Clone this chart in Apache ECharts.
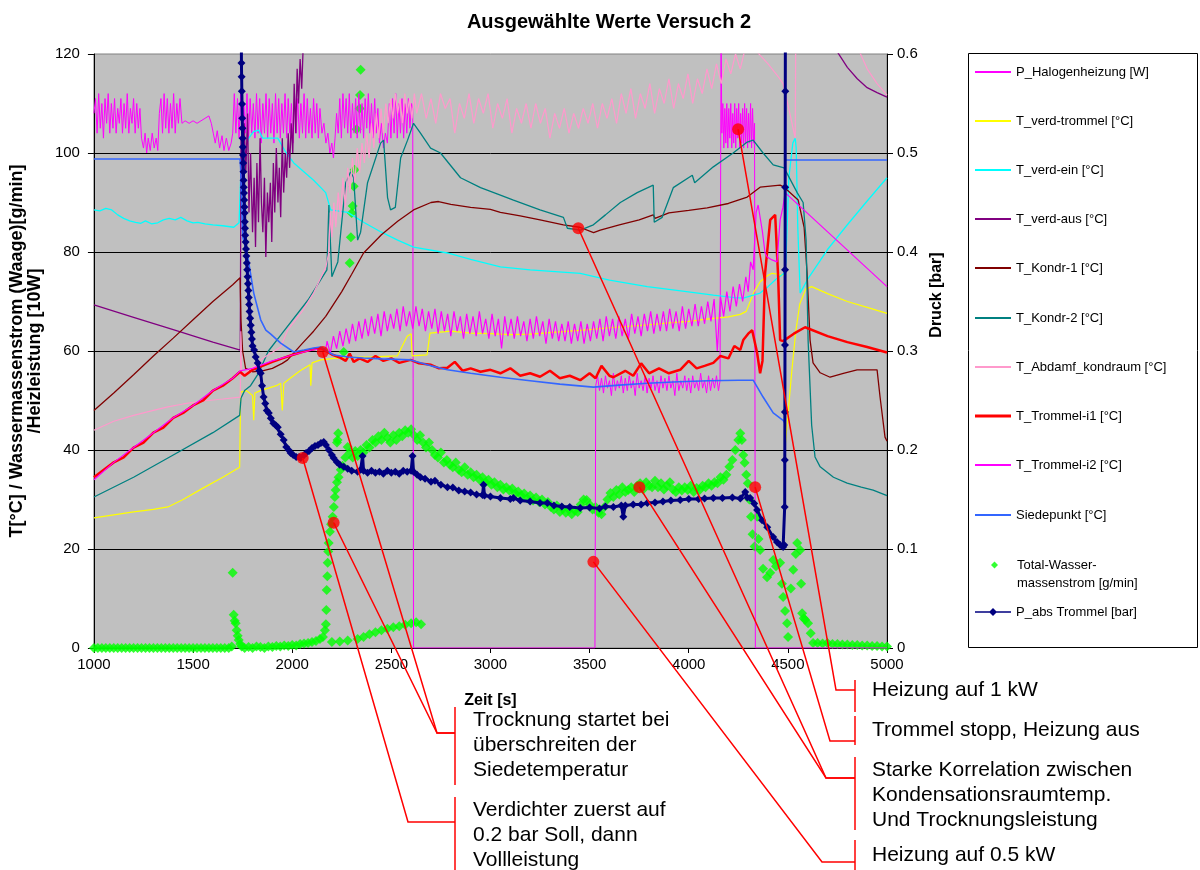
<!DOCTYPE html>
<html>
<head>
<meta charset="utf-8">
<script src="https://cdn.jsdelivr.net/npm/echarts@6/dist/echarts.min.js"></script>
<style>
html,body{margin:0;padding:0;background:#fff;}
#chart{width:1200px;height:870px;}
</style>
</head>
<body>
<div id="chart"></div>
<script>
// ---- axis ranges ----
const timeAxis = {min: 1000, max: 5000, step: 500};
const tempAxis = {min: 0, max: 120, step: 20};
const pressureAxis = {min: 0, max: 0.6, step: 0.1};

// ---- series names (legend order) ----
const seriesNames = [
  'P_Halogenheizung [W]', 'T_verd-trommel [°C]', 'T_verd-ein [°C]', 'T_verd-aus [°C]',
  'T_Kondr-1 [°C]', 'T_Kondr-2 [°C]', 'T_Abdamf_kondraum [°C]', 'T_Trommel-i1 [°C]',
  'T_Trommel-i2 [°C]', 'Siedepunkt [°C]', 'Total-Wassermassenstrom [g/min]', 'P_abs Trommel [bar]'
];

// ---- measured values: [time s, value] ----
const halogenPower = [
  [1000,108],[1008,111],[1016,104],[1024,112],[1032,105],[1040,110],[1048,103],[1056,111],[1064,106],[1072,112],
  [1080,104],[1088,110],[1096,105],[1104,111],[1112,104],[1120,109],[1128,106],[1136,111],[1144,104],[1152,110],
  [1160,105],[1168,112],[1176,104],[1184,109],[1192,106],[1200,111],[1208,104],[1216,110],[1224,105],[1232,109],
  [1240,103],[1250,101],[1258,104],[1266,100],[1274,103],[1284,100.5],[1294,104],[1304,101],[1314,103],[1322,100.5],
  [1330,108],[1338,111],[1346,104],[1354,112],[1362,105],[1370,111],[1378,104],[1386,110],[1394,105],[1402,112],
  [1410,104],[1418,110],[1426,106],[1434,111],[1444,106],[1460,106.5],[1480,106],[1500,106.5],[1520,106],[1540,106.5],
  [1560,107],[1580,107.5],[1592,106],[1602,104],[1612,102],[1622,104.5],[1634,101],[1646,103.5],[1656,100.5],[1668,103],
  [1680,100.5],[1692,102],[1700,104],[1708,112],[1716,104],[1724,111],[1732,103],[1740,112],[1748,102],[1756,110],
  [1764,104],[1772,112],[1780,103],[1788,111],[1796,104],[1804,110],[1812,103],[1820,112],[1828,104],[1836,111],
  [1844,102],[1852,110],[1860,104],[1868,112],[1876,103],[1884,111],[1892,104],[1900,110],[1908,102],[1916,112],
  [1924,104],[1932,111],[1940,103],[1948,110],[1956,104],[1964,112],[1972,103],[1980,111],[1988,104],[1996,110],
  [2004,102],[2012,112],[2020,104],[2028,111],[2036,103],[2044,110],[2052,104],[2060,112],[2068,103],[2076,111],
  [2084,104],[2092,109],[2100,103],[2108,111],[2116,104],[2124,110],[2132,103],[2140,109],[2150,104],[2160,106],
  [2170,102],[2180,104],[2190,100],[2200,102],[2208,99],[2216,103],[2224,108],[2232,104],[2240,111],[2248,103],
  [2256,112],[2264,105],[2272,111],[2280,104],[2288,112],[2296,103],[2304,110],[2312,104],[2320,111],[2328,103],
  [2336,112],[2344,104],[2352,110],[2360,103],[2368,111],[2376,105],[2384,112],[2392,104],[2400,110],[2408,103],
  [2416,111],[2424,104],[2432,109],[2440,102],[2450,106],[2460,101],[2470,104],[2480,102],[2490,110],[2498,103],
  [2506,111],[2514,104],[2522,112],[2530,103],[2538,110],[2546,104],[2554,111],[2562,103],[2570,110],[2578,104],
  [2586,111],[2594,105],[2602,110],[2608,109],[2612,0],[3527,0],[3531,53],[3540,55],[3550,52],[3560,54.5],
  [3570,51.5],[3580,55],[3590,52.5],[3600,54],[3610,51],[3620,55.5],[3630,52],[3640,54],[3650,52.5],[3660,55],
  [3670,51.5],[3680,54.5],[3690,52],[3700,55],[3710,52.5],[3720,54],[3730,51],[3740,55.5],[3750,52.5],[3760,54],
  [3770,52],[3780,55],[3790,51.5],[3800,54.5],[3810,52.5],[3820,55],[3830,52],[3840,54],[3850,51.5],[3860,55],
  [3870,52.5],[3880,54.5],[3890,52],[3900,55],[3910,52.5],[3920,54],[3930,51],[3940,55.5],[3950,52],[3960,54],
  [3970,52.5],[3980,55],[3990,52],[4000,54.5],[4010,51.5],[4020,55],[4030,52.5],[4040,54],[4050,52],[4060,55.5],
  [4070,52.5],[4080,54],[4090,51.5],[4100,55],[4110,52],[4120,54.5],[4130,52.5],[4140,55],[4150,52],[4158,54],
  [4163,125],[4167,104],[4172,110],[4177,101],[4182,109],[4187,102],[4192,110],[4197,101],[4202,109],[4207,103],
  [4212,110],[4217,101],[4222,108],[4227,102],[4232,110],[4237,101],[4242,109],[4247,103],[4252,110],[4257,101],
  [4262,108],[4267,102],[4272,109],[4277,101],[4282,110],[4287,102],[4292,109],[4297,101],[4302,108],[4307,102],
  [4312,110],[4317,101],[4322,109],[4327,102],[4332,106],[4336,0],[5000,0]
];

const drumEvapTemp = [
  [1000,26.3],[1100,26.9],[1200,27.5],[1300,28],[1373,28.5],[1450,30],[1550,32.3],[1650,34.5],[1735,36.5],[1740,51.7],
  [1770,52],[1800,51],[1806,46],[1812,51.5],[1840,52],[1880,52.5],[1920,53],[1942,53.5],[1950,48],[1958,53.5],
  [1990,54.5],[2040,56],[2090,57.2],[2094,53],[2100,57.6],[2144,58.2],[2210,58.5],[2300,58.7],[2400,58.8],[2530,59],
  [2580,63],[2600,63.5],[2605,59],[2680,59.2],[2695,63.6],[2800,64],[2900,63.6],[3000,63.5],[3100,63.3],[3200,63.4],
  [3300,63.7],[3400,64],[3500,64.3],[3600,64.7],[3700,65],[3800,65.3],[3900,65.7],[4000,66],[4100,66.5],[4200,66.9],
  [4260,67.4],[4290,68],[4310,70],[4330,72],[4360,74],[4400,75.3],[4420,75.7],[4450,75.5],[4484,75.3],[4486,40.5],
  [4500,47],[4520,56],[4540,64],[4560,69.5],[4590,72.5],[4620,73],[4700,71.6],[4800,70],[4900,68.8],[5000,67.6]
];

const evapInTemp = [
  [1000,88.5],[1030,88.3],[1060,88.8],[1090,88.5],[1120,87.5],[1150,86.8],[1180,86.3],[1210,86],[1237,85.8],[1260,86.3],
  [1290,85.7],[1322,85.9],[1350,86.5],[1380,86.8],[1410,86.5],[1438,87],[1470,86.3],[1500,85.9],[1524,86],[1560,85.7],
  [1600,85.5],[1650,85.3],[1705,85],[1732,85.9],[1741,96],[1760,100.5],[1781,103],[1805,104.3],[1831,104.6],[1851,103],
  [1927,103],[1970,100],[2008,98],[2108,94.5],[2169,92],[2194,88.5],[2280,88],[2360,86],[2450,84],[2532,82.4],
  [2612,81],[2783,79.8],[2900,78.5],[3050,77],[3200,76.4],[3453,75.7],[3600,74.3],[3791,73],[3950,72.2],[4124,71.3],
  [4230,70.8],[4275,70.7],[4360,71.7],[4400,73],[4440,74.5],[4481,75.7],[4490,78],[4505,95],[4525,102],[4537,103],
  [4542,101],[4550,85],[4562,71.7],[4600,74.5],[4700,80.5],[4800,85.5],[4900,90.3],[5000,95]
];

const evapOutTemp = [
  [1000,69.3],[1200,66.8],[1400,64.3],[1600,61.8],[1738,60.2],[1742,103],[1750,92],[1758,106],[1766,96],[1775,108],
  [1782,88],[1790,100],[1800,84],[1808,95],[1815,81],[1822,98],[1830,86],[1838,103],[1845,90],[1852,84],
  [1860,95],[1867,79],[1875,92],[1882,86],[1890,94],[1897,82],[1905,98],[1912,88],[1920,101],[1928,90],
  [1935,97],[1942,87],[1950,103],[1957,92],[1965,100],[1972,95],[1980,104],[1987,97],[1995,106],[2003,100],
  [2010,114],[2018,104],[2025,117],[2032,110],[2040,119],[2048,113],[2055,121],[2065,125],[2075,135],[4700,135],
  [4750,120.4],[4800,117.3],[4850,115],[4900,113.2],[4950,112.2],[5000,111.3]
];

const condenser1Temp = [
  [1000,48],[1100,51.5],[1200,55.2],[1300,59],[1400,62.6],[1500,66.3],[1600,70],[1700,73.4],[1737,74.8],[1742,66],
  [1750,60],[1765,56.5],[1800,55.8],[1850,56],[1900,56.5],[1950,57.5],[1977,58.2],[2050,61.5],[2108,64],[2169,67],
  [2250,72],[2300,75.5],[2360,79.8],[2450,83.5],[2532,86.2],[2612,88.5],[2700,90],[2738,90.2],[2800,89.6],[2900,89],
  [3000,88.6],[3050,88],[3150,87.3],[3250,86.5],[3368,85.5],[3450,85],[3520,83.9],[3554,84.4],[3650,85.5],[3750,86.5],
  [3821,87.5],[3830,86.8],[3900,87.9],[4000,88.4],[4093,88.9],[4200,89.8],[4295,91.1],[4360,93.1],[4461,93.5],[4481,93.1],
  [4552,90.5],[4582,85],[4597,75.7],[4612,62.2],[4627,57.6],[4663,55.6],[4713,54.7],[4780,55.5],[4849,56.2],[4950,56.2],
  [4965,50.7],[4990,42.6],[5000,41.8]
];

const condenser2Temp = [
  [1000,30.5],[1200,34.5],[1400,39],[1600,43.5],[1735,47],[1742,50.5],[1760,52],[1790,53],[1830,55.5],[1880,60],
  [1950,63.6],[2080,70.3],[2175,76.4],[2185,89.5],[2200,75],[2230,78],[2270,94],[2295,96.2],[2310,95],[2330,82.4],
  [2345,84],[2380,94],[2446,102],[2461,102.6],[2481,91],[2496,88.5],[2520,89],[2547,99],[2582,102.6],[2612,106],
  [2647,104],[2698,101],[2748,100],[2849,95],[2950,93],[3050,91.5],[3116,90.5],[3250,88.5],[3368,87],[3388,84.8],
  [3453,84.4],[3519,85.5],[3580,87.5],[3655,90],[3740,92],[3821,93.5],[3826,86],[3866,87],[3922,93],[4018,95.5],
  [4030,94],[4124,97.2],[4224,100],[4295,102.2],[4325,102.6],[4375,100],[4426,97.6],[4481,97],[4547,92],[4577,90],
  [4592,82.4],[4602,62.2],[4620,45],[4637,38.6],[4663,36.6],[4730,34.5],[4799,33.3],[4870,32.5],[4930,31.9],[5000,30.8]
];

const exhaustTemp = [
  [1000,44],[1100,45.8],[1200,47],[1300,48],[1373,48.7],[1450,49.3],[1550,49.9],[1650,50.3],[1738,50.7],[1741,64],
  [1745,55],[1760,55.5],[1806,56.8],[1850,58.5],[1942,60.8],[1977,64.2],[2050,68],[2108,71.7],[2170,77],[2184,79.8],
  [2192,88],[2200,83],[2210,90],[2220,85],[2232,92],[2244,87],[2256,95],[2268,89],[2280,97],[2292,92],
  [2304,99],[2316,94],[2328,101],[2340,96],[2352,102],[2364,98],[2376,104],[2388,99],[2400,106],[2412,101],
  [2424,108],[2436,103],[2448,109],[2460,104],[2472,110],[2484,106],[2496,111],[2508,107],[2520,112],[2532,108],
  [2544,111],[2556,106],[2568,112],[2580,108],[2592,111],[2604,107],[2616,112],[2628,108],[2652,112],[2676,107],
  [2700,111],[2724,106],[2748,112],[2772,109],[2796,111],[2820,104],[2844,110],[2868,107],[2892,112],[2916,106],
  [2940,111],[2964,108],[2988,112],[3012,105],[3036,110],[3060,107],[3084,111],[3108,104],[3132,109],[3156,106],
  [3180,110],[3204,105],[3228,110],[3252,106],[3276,109],[3300,103],[3324,108],[3348,105],[3372,109],[3396,104],
  [3420,108],[3444,105],[3468,109],[3492,106],[3516,110],[3540,105],[3564,110],[3588,107],[3612,111],[3636,106],
  [3660,112],[3684,108],[3708,113],[3732,107],[3756,112],[3780,109],[3804,114],[3828,108],[3852,113],[3876,110],
  [3900,115],[3924,109],[3948,114],[3972,111],[3996,116],[4020,110],[4044,115],[4068,112],[4092,117],[4116,113],
  [4140,118],[4164,114],[4188,119],[4212,116],[4236,120],[4260,117],[4284,121],[4310,122],[4345,120.4],[4400,118],
  [4450,115.5],[4476,114],[4510,108],[4537,103],[4540,125],[4850,125],[4862,120.4],[4900,117],[4950,114],[5000,111.7]
];

const drumTemp1 = [
  [1000,34.5],[1050,36],[1100,37.5],[1150,38.5],[1200,40.5],[1250,41.5],[1300,43.5],[1350,44.5],[1400,46.5],[1450,47.5],
  [1500,49],[1550,50],[1600,52],[1650,53],[1700,54.5],[1737,55.8],[1760,55],[1800,56.2],[1850,57],[1900,57.8],
  [1950,58.5],[2000,59.2],[2050,59.8],[2100,60.3],[2144,60.6],[2200,59.3],[2244,58.6],[2270,58],[2290,59.5],[2310,57.8],
  [2340,58.5],[2380,57.8],[2420,59],[2460,58],[2500,58.5],[2540,57.6],[2597,58.2],[2640,57.5],[2700,57.2],[2740,56.5],
  [2783,56.6],[2820,57.8],[2860,56],[2900,56.5],[2950,55.8],[3000,56.2],[3050,55.5],[3100,56.5],[3150,55],[3200,55.5],
  [3250,54.8],[3300,56],[3350,54.5],[3400,55],[3453,54.1],[3500,55.5],[3530,54.5],[3560,57],[3600,55],[3620,54.7],
  [3680,56],[3720,55],[3760,57.5],[3800,55.5],[3850,56.5],[3900,55.5],[3957,56.2],[4000,58],[4040,56.5],[4080,57],
  [4124,57.6],[4160,59],[4200,58.5],[4230,61],[4260,60.2],[4275,62.2],[4300,63.5],[4320,64.2],[4345,59.6],[4360,55.5],
  [4372,58],[4385,75.7],[4411,86.5],[4436,87.5],[4451,75],[4461,62.2],[4476,62],[4530,63.5],[4587,64.8],[4700,63],
  [4800,61.8],[4900,60.8],[5000,59.7]
];

const drumTemp2 = [
  [1000,34],[1100,37.5],[1200,40.5],[1300,43.5],[1400,46.5],[1500,49],[1600,52],[1700,54.5],[1737,56],[1800,56.5],
  [1900,58],[2000,59.2],[2100,60.2],[2170,60.5],[2176,62],[2192,59.5],[2208,63],[2224,60.5],[2240,64],[2256,61],
  [2272,64.5],[2288,61.5],[2304,65.5],[2320,62],[2336,66],[2352,62.5],[2368,66.5],[2384,63],[2400,67],[2416,63.5],
  [2432,67.5],[2448,63],[2464,68],[2480,64],[2496,67.5],[2512,64.5],[2528,68.5],[2544,64],[2560,69],[2576,65],
  [2592,68],[2608,64.5],[2624,69],[2640,65],[2656,68.5],[2672,64],[2688,68],[2704,64.5],[2720,68.5],[2736,63.5],
  [2752,68],[2768,64],[2784,67.5],[2800,63],[2816,68],[2832,64],[2848,67],[2864,62.5],[2880,67.5],[2896,63.5],
  [2912,67],[2928,63],[2944,68],[2960,63.5],[2976,66.5],[2992,62.5],[3008,67.5],[3024,63],[3040,66.5],[3056,60.5],
  [3072,67],[3088,63],[3104,66.5],[3120,62.5],[3136,67],[3152,63],[3168,66],[3184,62],[3200,66.5],[3216,62.5],
  [3232,67],[3248,63],[3264,66],[3280,61.5],[3296,66.5],[3312,62.5],[3328,66],[3344,62],[3360,65.5],[3376,62],
  [3392,66],[3408,61.5],[3424,65.5],[3440,62],[3456,66],[3472,61.5],[3488,65.5],[3504,62],[3520,66],[3536,62.5],
  [3552,66.5],[3568,62],[3584,67],[3600,63],[3616,66.5],[3632,62.5],[3648,67],[3664,63],[3680,66.5],[3696,62.5],
  [3712,67.5],[3728,63.5],[3744,67],[3760,63],[3776,67.5],[3792,64],[3808,68],[3824,63.5],[3840,67.5],[3856,64],
  [3872,68],[3888,64],[3904,68.5],[3920,64.5],[3936,68],[3952,64],[3968,69],[3984,64.5],[4000,68.5],[4016,65],
  [4032,69.5],[4048,65],[4064,69],[4080,65.5],[4096,70],[4112,66],[4128,70.5],[4144,60],[4160,71],[4176,67],
  [4192,72],[4208,68],[4224,73],[4240,69],[4256,73.5],[4272,70],[4288,75],[4300,72],[4312,78],[4325,76.4],
  [4340,88],[4350,89.5],[4360,89.9],[4372,84],[4385,79.8],[4396,79],[4420,78.4],[4445,78],[4461,86.5],[4475,89],
  [4486,92],[5000,73]
];

const boilingPoint = [
  [1000,98.8],[1737,98.8],[1740,97],[1751,83],[1776,79],[1806,71.7],[1841,66.3],[1867,64.2],[1892,63.4],[1942,61.6],
  [2008,59.8],[2060,60.2],[2108,60.6],[2144,60.8],[2175,60],[2209,59.2],[2280,58.8],[2360,58.6],[2450,58.4],[2597,58.2],
  [2700,57],[2783,56.2],[2900,55.5],[3050,54.7],[3200,54],[3350,53.3],[3519,52.7],[3650,53.1],[3791,53.5],[3950,53.8],
  [4100,54],[4250,54.1],[4325,54.1],[4375,50.7],[4426,47.5],[4476,46],[4484,45.5],[4486,98.6],[5000,98.6]
];

const waterFlow = [
  [1000,0],[1020,0],[1040,0],[1060,0],[1080,0],[1100,0],[1120,0],[1140,0],[1160,0],[1180,0],
  [1200,0],[1220,0],[1240,0],[1260,0],[1280,0],[1300,0],[1320,0],[1340,0],[1360,0],[1380,0],
  [1400,0],[1420,0],[1440,0],[1460,0],[1480,0],[1500,0],[1520,0],[1540,0],[1560,0],[1580,0],
  [1600,0],[1620,0],[1640,0],[1660,0],[1680,0],[1695,0.3],[1700,15.2],[1705,6.7],[1710,5.5],[1715,5],
  [1720,3.6],[1725,2.5],[1730,1.6],[1738,0.8],[1745,0.3],[1760,0],[1780,0.2],[1800,0],[1820,0.3],[1840,0.2],
  [1860,0],[1880,0.3],[1900,0.2],[1920,0.4],[1940,0.3],[1960,0.5],[1980,0.4],[2000,0.6],[2020,0.5],[2040,0.8],
  [2060,0.9],[2080,1],[2100,1.2],[2120,1.4],[2140,1.8],[2155,2.2],[2165,3.6],[2170,4.8],[2172,7.7],[2174,11.7],
  [2177,14.5],[2179,17.2],[2182,19.5],[2184,21.2],[2190,23.5],[2196,25],[2204,26.5],[2210,28.5],[2215,30.5],[2219,31.9],
  [2226,33.5],[2234,34.5],[2229,42],[2232,43.4],[2226,41.5],[2245,36],[2254,36.8],
  [2260,59.8],[2290,77.8],[2296,83],[2300,87.9],[2305,89.3],[2310,93.3],[2315,96.6],[2325,104.8],[2340,109],[2342,111.7],[2345,116.8],
  [2200,1.2],[2240,1.3],[2280,1.5],[2330,1.8],[2360,2.2],[2390,2.8],[2420,3.2],[2450,3.6],[2480,3.9],[2510,4.2],
  [2540,4.4],[2570,4.7],[2600,5],[2625,5.2],[2650,4.8],
  [2268,38.5],[2280,40.6],[2292,39.5],[2305,38.5],[2318,39.8],[2330,38.8],[2345,40],[2360,39.5],[2375,41],[2390,40.5],
  [2405,42],[2420,41.5],[2435,42.8],[2450,42],[2465,43.5],[2480,42.5],[2495,41.5],[2510,43],[2525,42],[2540,43.5],
  [2555,42.8],[2570,44],[2585,43.5],[2600,44.2],[2615,43],[2630,42],[2645,43],[2660,41.5],[2675,40.5],[2690,41.5],
  [2705,40],[2720,39],[2735,38.5],[2750,39.5],[2765,37.5],[2780,38],[2795,37],[2810,36.5],[2825,37.5],[2840,36],
  [2855,35.5],[2870,36.5],[2885,35],[2900,35.5],[2915,34.5],[2930,35],[2945,34],[2960,34.5],[2975,33.5],[2990,34],
  [3005,33],[3020,33.5],[3035,32.5],[3050,33],[3065,32],[3080,32.5],[3095,31.8],[3110,32.2],[3125,31.2],[3140,31.6],
  [3155,30.8],[3170,31.2],[3185,30.2],[3200,30.8],[3215,29.8],[3230,30.4],[3245,29.5],[3260,30],[3275,29],[3290,29.5],
  [3305,28.5],[3320,28],[3335,28.8],[3350,27.5],[3365,28.2],[3380,27.3],[3395,28],[3410,27],[3425,27.8],[3440,27.5],
  [3455,29],[3470,30],[3485,29.9],[3500,29],[3515,28],[3530,28.5],[3545,27.3],[3560,27],[3575,28.5],[3590,30],
  [3605,31.3],[3620,30.5],[3635,31.9],[3650,31],[3665,32.5],[3680,31.5],[3695,31.9],[3710,32.5],[3725,31.5],[3740,32.8],
  [3755,33.3],[3770,32],[3785,33.5],[3800,32.8],[3815,32.5],[3830,33.8],[3845,32.5],[3860,33.3],[3875,32],[3890,32.8],
  [3905,33.5],[3920,32],[3935,31.5],[3950,32.5],[3965,31.8],[3980,32.5],[3995,31.9],[4010,32.8],[4025,31.5],[4040,32.3],
  [4055,31.9],[4070,32.8],[4085,32.5],[4100,33.3],[4115,32.8],[4130,33.5],[4145,33.3],[4160,34.5],[4175,34],[4190,35],
  [4205,36.6],[4220,38],[4235,40],[4250,42],[4260,43.4],[4268,42],[4275,39],[4282,37.4],[4290,35],[4298,33.3],
  [4306,30],[4314,26.5],[4322,23],[4332,20.5],[4345,26.5],[4352,22],[4360,19.8],[4375,16],[4395,14.3],[4411,15.2],
  [4426,17.8],[4440,16.5],[4461,17.2],[4470,13],[4476,10.3],[4486,7.5],[4496,5],[4501,2.2],[4515,12],[4527,15.8],
  [4540,19],[4547,21.2],[4562,19.8],[4567,13],[4572,7],[4580,6],[4587,5.7],[4602,5],[4615,3],[4627,1],
  [4650,1],[4675,0.9],[4700,1],[4725,0.8],[4750,0.8],[4775,0.7],[4800,0.7],[4825,0.6],[4850,0.6],[4875,0.5],
  [4900,0.5],[4925,0.4],[4950,0.4],[4975,0.3],[5000,0.3]
];

const drumPressure = [
  [1742,0.7],[1744,0.591],[1745,0.577],[1746,0.5625],[1747,0.5495],[1748,0.535],[1749,0.525],[1750,0.515],[1751,0.506],[1752,0.498],
  [1753,0.49],[1754,0.481],[1755,0.4725],[1756,0.4655],[1757,0.4595],[1758,0.4525],[1759,0.4455],[1760,0.4395],[1761,0.4305],[1762,0.424],
  [1763,0.417],[1765,0.41],[1767,0.403],[1769,0.396],[1771,0.389],[1773,0.382],[1775,0.375],[1777,0.368],[1779,0.361],[1781,0.354],
  [1783,0.347],[1785,0.34],[1788,0.333],[1791,0.326],[1794,0.319],[1797,0.312],[1800,0.305],[1808,0.301],[1816,0.294],[1826,0.288],
  [1834,0.28],[1841,0.2775],[1848,0.265],[1856,0.2535],[1864,0.247],[1872,0.24],[1882,0.2375],[1892,0.232],[1905,0.227],[1917,0.225],
  [1927,0.223],[1942,0.216],[1957,0.21],[1970,0.203],[1982,0.2],[1992,0.197],[2005,0.195],[2020,0.193],[2035,0.193],[2043,0.192],
  [2055,0.194],[2070,0.197],[2085,0.199],[2100,0.202],[2115,0.204],[2130,0.205],[2145,0.207],[2159,0.208],[2170,0.205],[2185,0.2],
  [2200,0.195],[2209,0.192],[2225,0.188],[2240,0.185],[2260,0.183],[2280,0.181],[2300,0.179],[2330,0.178],[2345,0.18],[2355,0.194],
  [2360,0.179],[2380,0.177],[2400,0.179],[2420,0.177],[2440,0.178],[2460,0.176],[2480,0.179],[2500,0.177],[2520,0.178],[2540,0.176],
  [2560,0.179],[2580,0.178],[2600,0.179],[2607,0.194],[2612,0.178],[2630,0.175],[2647,0.1725],[2670,0.171],[2700,0.168],[2720,0.169],
  [2750,0.165],[2783,0.1625],[2810,0.162],[2840,0.159],[2870,0.158],[2900,0.157],[2930,0.155],[2960,0.1545],[2965,0.165],[2970,0.154],
  [3000,0.153],[3050,0.1515],[3100,0.1505],[3116,0.1515],[3150,0.149],[3200,0.148],[3250,0.1465],[3287,0.1465],[3320,0.144],[3360,0.143],
  [3400,0.1425],[3453,0.1415],[3500,0.142],[3550,0.141],[3580,0.143],[3620,0.1425],[3660,0.144],[3670,0.1325],[3680,0.144],[3720,0.145],
  [3760,0.145],[3791,0.1465],[3830,0.147],[3870,0.148],[3910,0.149],[3957,0.1495],[4000,0.1505],[4050,0.1505],[4080,0.151],[4124,0.1515],
  [4170,0.1515],[4220,0.152],[4260,0.151],[4285,0.1575],[4295,0.152],[4310,0.1515],[4330,0.146],[4345,0.1395],[4370,0.129],[4396,0.122],
  [4426,0.112],[4445,0.107],[4461,0.104],[4476,0.102],[4482,0.104],[4484,0.1425],[4484.5,0.19],[4485,0.2385],[4485.5,0.306],[4486,0.382],
  [4486.5,0.4655],[4487,0.5625],[4488,0.7]
];

// ---- annotation points [time s, value] and their texts ----
const calloutPoints = [[2154,59.8],[2053,38.4],[2209,25.3],[3443,84.8],[3751,32.5],[3519,17.4],[4249,104.8],[4335,32.5]];
const calloutTexts = [
  ['Trocknung startet bei', 'überschreiten der', 'Siedetemperatur'],
  ['Verdichter zuerst auf', '0.2 bar Soll, dann', 'Vollleistung'],
  ['Heizung auf 1 kW'],
  ['Trommel stopp, Heizung aus'],
  ['Starke Korrelation zwischen', 'Kondensationsraumtemp.', 'Und Trocknungsleistung'],
  ['Heizung auf 0.5 kW']
];

// ---- chart ----
const FONT = '"Liberation Sans", Arial, Helvetica, sans-serif';
const chart = echarts.init(document.getElementById('chart'), null, {renderer: 'canvas'});

function lineSeries(name, data, color, width, extra) {
  return Object.assign({
    name: name, type: 'line', data: data, yAxisIndex: 0,
    symbol: 'none', smooth: false, clip: true,
    lineStyle: {color: color, width: width},
    itemStyle: {color: color},
    emphasis: {disabled: true}, silent: true
  }, extra || {});
}

const lineWidths = [1, 1.2, 1.3, 1.3, 1.3, 1.3, 1.2, 2.5, 1.2, 1.6];
const lineColors = ['#FF00FF', '#FFFF00', '#00FFFF', '#800080', '#800000', '#008080', '#FF99CC', '#FF0000', '#FF00FF', '#3366FF'];
const lineData = [halogenPower, drumEvapTemp, evapInTemp, evapOutTemp, condenser1Temp, condenser2Temp,
                  exhaustTemp, drumTemp1, drumTemp2, boilingPoint];

const series = lineData.map(function (d, i) {
  return lineSeries(seriesNames[i], d, lineColors[i], lineWidths[i]);
});
series.push({
  name: seriesNames[10], type: 'scatter', data: waterFlow, yAxisIndex: 0,
  symbol: 'diamond', symbolSize: 10, itemStyle: {color: '#00FF00'},
  emphasis: {disabled: true}, silent: true, clip: true
});
series.push(lineSeries(seriesNames[11], drumPressure, '#000080', 3, {
  yAxisIndex: 1, symbol: 'diamond', symbolSize: 8, showSymbol: true,
  itemStyle: {color: '#000080'}
}));
series.push({
  name: 'callouts', type: 'scatter', data: calloutPoints, yAxisIndex: 0,
  symbol: 'circle', symbolSize: 12, itemStyle: {color: '#FF0000'},
  z: 10, silent: true, emphasis: {disabled: true}
});

// one legend block per entry so each row sits at its own height
const legendRowY = [72, 121, 170, 219, 268, 318, 367, 416, 465, 515, 565, 612];
const legendLineWidths = [2, 2, 2, 2, 2, 2, 2, 3, 2, 2];
const pressureIcon = 'path://M0,3.2 L36,3.2 L36,4.8 L0,4.8 Z M18,0 L22,4 L18,8 L14,4 Z';
const legends = seriesNames.map(function (name, i) {
  const lg = {
    data: [{name: name, icon: 'rect'}], left: 975, top: legendRowY[i] - 7, orient: 'vertical',
    itemWidth: 36, itemHeight: i < 10 ? legendLineWidths[i] : 14, padding: 0, selectedMode: false,
    textStyle: {fontFamily: FONT, fontSize: 13, color: '#000', lineHeight: 14}
  };
  if (i === 10) {
    lg.data = [{name: name, icon: 'diamond'}];
    lg.left = 991; lg.top = legendRowY[i] - 27;
    lg.itemWidth = 7; lg.itemHeight = 7;
    lg.formatter = function () { return ' \nTotal-Wasser-\nmassenstrom [g/min]'; };
    lg.textStyle = {fontFamily: FONT, fontSize: 13, color: '#000', lineHeight: 18, padding: [0, 0, 0, 14]};
  }
  if (i === 11) {
    lg.data = [{name: name, icon: pressureIcon}];
    lg.itemHeight = 8;
  }
  return lg;
});

const axisFont = {fontFamily: FONT, fontSize: 15, color: '#000'};
const nameFont = {fontFamily: FONT, fontSize: 16, fontWeight: 'bold', color: '#000'};

const option = {
  animation: false,
  backgroundColor: '#FFFFFF',
  title: {
    text: 'Ausgewählte Werte Versuch 2', left: 604, top: 7, textAlign: 'center',
    textStyle: {fontFamily: FONT, fontSize: 20, fontWeight: 'bold', color: '#000'}
  },
  legend: legends,
  grid: {
    left: 93, top: 54, width: 794, height: 594, show: true,
    backgroundColor: '#C0C0C0', borderColor: '#808080', borderWidth: 1, containLabel: false
  },
  xAxis: {
    type: 'value', min: timeAxis.min, max: timeAxis.max, interval: timeAxis.step,
    axisLine: {show: true, onZero: false, lineStyle: {color: '#000', width: 1}},
    axisTick: {show: true, length: 5, lineStyle: {color: '#000'}},
    axisLabel: Object.assign({margin: 9, formatter: function (v) { return String(v); }}, axisFont),
    splitLine: {show: false},
    name: 'Zeit [s]', nameLocation: 'middle', nameGap: 45, nameTextStyle: nameFont
  },
  yAxis: [
    {
      type: 'value', position: 'left', min: tempAxis.min, max: tempAxis.max, interval: tempAxis.step,
      axisLine: {show: true, onZero: false, lineStyle: {color: '#000', width: 1}},
      axisTick: {show: true, length: 6, lineStyle: {color: '#000'}},
      axisLabel: Object.assign({margin: 14}, axisFont),
      splitLine: {show: true, showMinLine: false, showMaxLine: false, lineStyle: {color: '#000', width: 1}},
      name: 'T[°C] / Wassermassenstrom (Waage)[g/min]\n/Heizleistung [10W]',
      nameLocation: 'middle', nameGap: 35, nameRotate: 90,
      nameTextStyle: Object.assign({}, nameFont, {fontSize: 18, lineHeight: 18, align: 'center'})
    },
    {
      type: 'value', position: 'right', min: pressureAxis.min, max: pressureAxis.max, interval: pressureAxis.step,
      axisLine: {show: true, onZero: false, lineStyle: {color: '#000', width: 1}},
      axisTick: {show: true, length: 6, lineStyle: {color: '#000'}},
      axisLabel: Object.assign({
        margin: 10,
        formatter: function (v) { return v === 0 ? '0' : v.toFixed(1); }
      }, axisFont),
      splitLine: {show: false}
    }
  ],
  series: series
};

chart.setOption(option);

// ---- callout boxes with leader lines ----
const calloutLayout = [
  {text: 0, points: [0, 2], elbow: [437, 733], bx: 455, y0: 707, y1: 785, tx: 473, ty: 708},
  {text: 1, points: [1], elbow: [408, 822], bx: 455, y0: 797, y1: 870, tx: 473, ty: 798},
  {text: 2, points: [6], elbow: [836, 690], bx: 855, y0: 680, y1: 712, tx: 872, ty: 678},
  {text: 3, points: [7], elbow: [830, 741], bx: 855, y0: 716, y1: 745, tx: 872, ty: 718},
  {text: 4, points: [3, 4], elbow: [826, 778], bx: 855, y0: 757, y1: 830, tx: 872, ty: 758},
  {text: 5, points: [5], elbow: [822, 862], bx: 855, y0: 840, y1: 870, tx: 872, ty: 843}
];

const graphics = [
  {
    type: 'rect', z: -1,
    shape: {x: 968.5, y: 53.5, width: 229, height: 594},
    style: {fill: '#FFFFFF', stroke: '#000', lineWidth: 1}
  },
  {
    type: 'text', x: 937, y: 295, rotation: Math.PI / 2,
    style: {text: 'Druck [bar]', fontFamily: FONT, fontSize: 16, fontWeight: 'bold', fill: '#000',
            align: 'center', verticalAlign: 'middle'}
  }
];

calloutLayout.forEach(function (c) {
  c.points.forEach(function (pi) {
    const p = chart.convertToPixel({gridIndex: 0}, calloutPoints[pi]);
    graphics.push({
      type: 'polyline', z: 5, silent: true,
      shape: {points: [p, c.elbow, [c.bx, c.elbow[1]]]},
      style: {stroke: '#FF0000', lineWidth: 1.5, fill: null}
    });
  });
  graphics.push({
    type: 'line', z: 5, silent: true,
    shape: {x1: c.bx, y1: c.y0, x2: c.bx, y2: c.y1},
    style: {stroke: '#FF0000', lineWidth: 1.5}
  });
  graphics.push({
    type: 'text', x: c.tx, y: c.ty, z: 5, silent: true,
    style: {text: calloutTexts[c.text].join('\n'), fontFamily: FONT, fontSize: 21, lineHeight: 25,
            fill: '#000', align: 'left', verticalAlign: 'top'}
  });
});

chart.setOption({graphic: graphics});
</script>
</body>
</html>
